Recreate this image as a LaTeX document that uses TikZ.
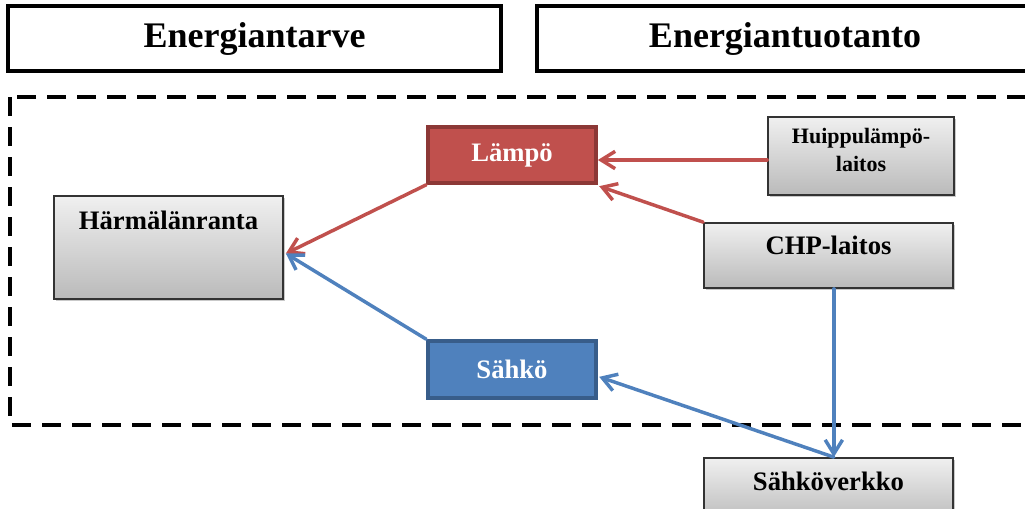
\documentclass[tikz,border=0pt]{standalone}
\usepackage{fontspec}
\setmainfont{Liberation Serif}
\usetikzlibrary{arrows.meta,shadows}
\definecolor{redfill}{HTML}{C0504D}
\definecolor{redline}{HTML}{8C3836}
\definecolor{bluefill}{HTML}{4F81BD}
\definecolor{blueline}{HTML}{385D8A}
\definecolor{boxline}{HTML}{333333}
\tikzset{
  headbox/.style={draw=black, line width=2.4pt, fill=white, inner sep=0pt,
    font=\fontsize{27}{32}\selectfont\bfseries},
  graybox/.style={draw=boxline, line width=1.3pt, top color=black!6, bottom color=black!27,
    inner sep=0pt, drop shadow={shadow xshift=1.6pt, shadow yshift=-1.6pt, opacity=0.3, fill=black!70}},
  graytext/.style={anchor=north, inner sep=0pt, yshift=-10.5pt,
    font=\fontsize{20}{24}\selectfont\bfseries},
  redbox/.style={draw=redline, line width=2.8pt, fill=redfill, text=white, inner sep=0pt,
    font=\fontsize{20}{24}\selectfont\bfseries,
    drop shadow={shadow xshift=1.2pt, shadow yshift=-1.2pt, opacity=0.25, fill=black!70}},
  bluebox/.style={draw=blueline, line width=2.8pt, fill=bluefill, text=white, inner sep=0pt,
    font=\fontsize{20}{24}\selectfont\bfseries,
    drop shadow={shadow xshift=1.2pt, shadow yshift=-1.2pt, opacity=0.25, fill=black!70}},
  flow/.style={line width=2.6pt, line cap=round, line join=round,
    -{Straight Barb[length=10.5pt,width=13pt,line width=2.6pt]}},
  redflow/.style={flow, draw=redfill},
  blueflow/.style={flow, draw=bluefill},
  dashframe/.style={draw=black, line width=3pt, dash pattern=on 14.5pt off 8pt}
}
\begin{document}
\begin{tikzpicture}[x=0.75pt,y=-0.75pt]
\useasboundingbox (0,0) rectangle (1025,508);
\clip (0,0) rectangle (1025,508);

% headers
\node[headbox, minimum width=369.75pt, minimum height=48.75pt] (tarve) at (254.5,38.5) {Energiantarve};
\node[headbox, minimum width=372pt, minimum height=48.75pt] (tuotanto) at (785,38.5) {Energiantuotanto};

% dashed frame
\coordinate (fnw) at (10,97);
\coordinate (fse) at (1045,425);
\draw[dashframe] (fnw) rectangle (fse);

% nodes
\node[graybox, minimum width=171.75pt, minimum height=77.25pt,
  label={[graytext, yshift=-1.5pt]north:Härmälänranta}] (harm) at (168.5,247.5) {};
\node[redbox, minimum width=126pt, minimum height=42pt] (lampo) at (512,155) {Lämpö};
\node[bluebox, minimum width=126pt, minimum height=42.75pt] (sahko) at (512,369.5) {Sähkö};
\node[graybox, minimum width=139.5pt, minimum height=58.5pt,
  label={[graytext, yshift=1.5pt, align=center, font=\fontsize{16.5}{21}\selectfont\bfseries]north:Huippulämpö-\\laitos}] (huippu) at (861,156) {};
\node[graybox, minimum width=186.75pt, minimum height=48.75pt,
  label={[graytext]north:CHP-laitos}] (chp) at (828.5,255.5) {};
\node[graybox, minimum width=186.75pt, minimum height=48.75pt,
  label={[graytext, yshift=-0.5pt]north:Sähköverkko}] (verkko) at (828.5,490.5) {};

% connectors
\coordinate (hin) at ([xshift=1.5pt,yshift=-4.5pt]harm.east);
\draw[redflow] ([yshift=-3pt]huippu.west) -- ([yshift=-3pt]huippu.west -| lampo.east);
\draw[redflow] (chp.north west) -- ([xshift=1pt,yshift=-1pt]lampo.south east);
\draw[redflow] (lampo.south west) -- (hin);
\draw[blueflow] (sahko.north west) -- (hin);
\draw[blueflow] ([xshift=4pt]chp.south) -- ([xshift=4pt]verkko.north);
\draw[blueflow] ([xshift=4pt]verkko.north) -- ([xshift=1pt,yshift=-5.5pt]sahko.east);
\end{tikzpicture}
\end{document}
